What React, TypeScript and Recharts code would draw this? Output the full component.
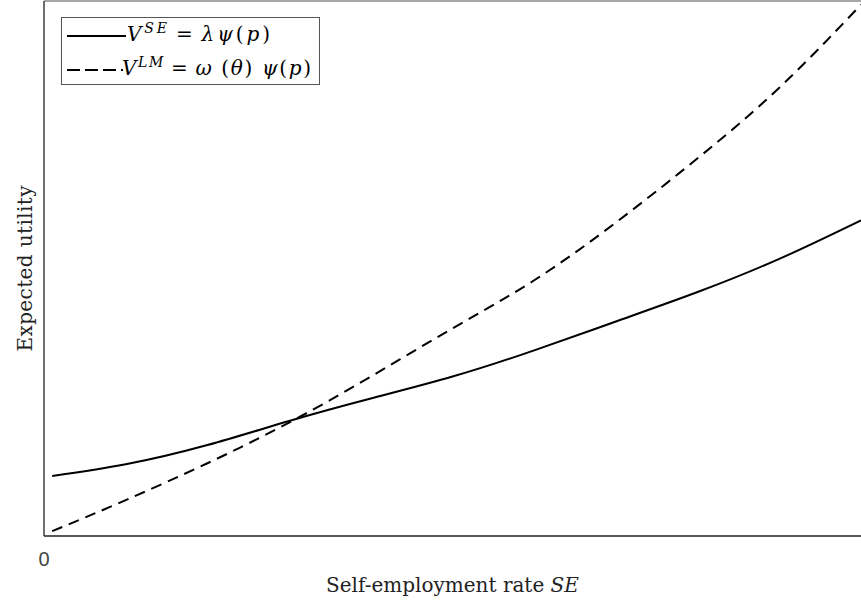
import React from 'react';
import { LineChart, Line, XAxis, YAxis, Legend, ReferenceLine } from 'recharts';

// self-employment rate (share of the x range) and the two utility curves
const seRate = [0.01, 0.1, 0.2, 0.3, 0.4, 0.5, 0.6, 0.7, 0.8, 0.9, 1.0];
const utilitySE = [0.112, 0.134, 0.17, 0.215, 0.257, 0.298, 0.347, 0.401, 0.456, 0.518, 0.59];
const utilityLM = [0.009, 0.067, 0.136, 0.212, 0.298, 0.388, 0.478, 0.586, 0.706, 0.838, 0.993];
const xTicks = [0];

const data = seRate.map((x, i) => ({ x, se: utilitySE[i], lm: utilityLM[i] }));

const serif = '"DejaVu Serif", "Liberation Serif", serif';

const renderLegend = () => (
  <svg width={260} height={69} style={{ display: 'block' }}>
    <rect x={0.5} y={0.5} width={258} height={67} fill="#fff" stroke="#555" strokeWidth={1} />
    <line x1={6} y1={19} x2={65} y2={19} stroke="#000" strokeWidth={2} />
    <text x={66} y={24} fontFamily={serif} fontSize={20} fill="#000" textLength={143} lengthAdjust="spacing">
      <tspan fontStyle="italic">V</tspan>
      <tspan fontStyle="italic" fontSize={14} dy={-8}>SE</tspan>
      <tspan dy={8} dx={6}>=</tspan>
      <tspan fontStyle="italic" dx={6}>λψ</tspan>
      <tspan>(</tspan>
      <tspan fontStyle="italic">p</tspan>
      <tspan>)</tspan>
    </text>
    <line x1={6} y1={53} x2={62} y2={53} stroke="#000" strokeWidth={2} strokeDasharray="13 5" />
    <text x={61} y={58} fontFamily={serif} fontSize={20} fill="#000" textLength={189} lengthAdjust="spacing">
      <tspan fontStyle="italic">V</tspan>
      <tspan fontStyle="italic" fontSize={14} dy={-8}>LM</tspan>
      <tspan dy={8} dx={6}>=</tspan>
      <tspan fontStyle="italic" dx={6}>ω</tspan>
      <tspan> (</tspan>
      <tspan fontStyle="italic">θ</tspan>
      <tspan>) </tspan>
      <tspan fontStyle="italic">ψ</tspan>
      <tspan>(</tspan>
      <tspan fontStyle="italic">p</tspan>
      <tspan>)</tspan>
    </text>
  </svg>
);

const XLabel = (props: any) => {
  const { viewBox } = props;
  const cx = viewBox.x + viewBox.width / 2;
  return (
    <text x={cx} y={592} textAnchor="middle" fontFamily={serif} fontSize={20} fill="#222">
      Self-employment rate <tspan fontStyle="italic">SE</tspan>
    </text>
  );
};

const YLabel = (props: any) => {
  const { viewBox } = props;
  const cy = viewBox.y + viewBox.height / 2;
  return (
    <text
      x={32}
      y={cy}
      transform={`rotate(-90, 32, ${cy})`}
      textAnchor="middle"
      fontFamily={serif}
      fontSize={20}
      fill="#222"
      textLength={166}
      lengthAdjust="spacing"
    >
      Expected utility
    </text>
  );
};

export default function App() {
  return (
    <div style={{ position: 'absolute', left: 0, top: 0, background: '#fff' }}>
      <LineChart width={861} height={602} data={data} margin={{ top: 1, right: 0, left: 0, bottom: 0 }}>
        <XAxis
          dataKey="x"
          type="number"
          domain={[0, 1]}
          ticks={xTicks}
          height={66}
          tickLine={false}
          tickMargin={10}
          axisLine={{ stroke: '#222', strokeWidth: 1.3 }}
          tick={{ fill: '#444', fontSize: 20, fontFamily: '"Liberation Sans", Arial, sans-serif' }}
          label={{ content: XLabel }}
        />
        <YAxis
          type="number"
          domain={[0, 1]}
          allowDataOverflow
          width={44}
          tick={false}
          tickLine={false}
          axisLine={{ stroke: '#222', strokeWidth: 1.3 }}
          label={{ content: YLabel }}
        />
        <ReferenceLine y={1} stroke="#888" strokeWidth={1.3} />
        <Legend
          content={renderLegend}
          layout="horizontal"
          verticalAlign="middle"
          wrapperStyle={{ left: 61, top: 17, width: 260, height: 69, bottom: 'auto' }}
        />
        <Line
          type="natural"
          dataKey="se"
          stroke="#000"
          strokeWidth={2}
          dot={false}
          isAnimationActive={false}
        />
        <Line
          type="natural"
          dataKey="lm"
          stroke="#000"
          strokeWidth={2}
          strokeDasharray="11 7"
          dot={false}
          isAnimationActive={false}
        />
      </LineChart>
    </div>
  );
}
